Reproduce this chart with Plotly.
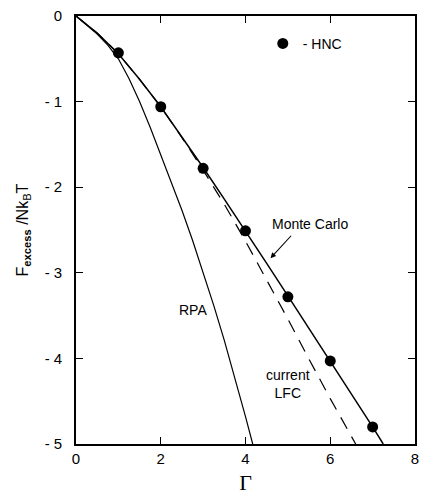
import plotly.graph_objects as go

# Excess free energy of the electron liquid versus coupling parameter Gamma
gamma_hnc = [1, 2, 3, 4, 5, 6, 7]
f_hnc = [-0.43, -1.06, -1.78, -2.51, -3.28, -4.03, -4.80]

gamma_mc = [0, 0.5, 1, 1.5, 2, 2.5, 3, 3.5, 4, 4.5, 5, 5.5, 6, 6.5, 7, 7.25]
f_mc = [0, -0.20, -0.44, -0.74, -1.06, -1.41, -1.77, -2.14, -2.51, -2.89,
        -3.27, -3.65, -4.03, -4.41, -4.80, -5.0]

gamma_lfc = [0, 0.5, 1, 1.5, 2, 2.5, 3, 3.5, 4, 4.5, 5, 5.5, 6, 6.6]
f_lfc = [0, -0.20, -0.44, -0.74, -1.06, -1.42, -1.80, -2.20, -2.63, -3.08,
         -3.54, -4.01, -4.47, -5.0]

gamma_rpa = [0, 0.25, 0.5, 0.75, 1.0, 1.25, 1.5, 1.75, 2.0, 2.25, 2.5, 2.75,
             3.0, 3.25, 3.5, 3.75, 4.0, 4.17]
f_rpa = [0, -0.10, -0.21, -0.34, -0.50, -0.73, -1.00, -1.30, -1.62, -1.94,
         -2.27, -2.62, -2.99, -3.38, -3.79, -4.22, -4.68, -5.0]

x_ticks = [0, 2, 4, 6, 8]
y_ticks = [0, -1, -2, -3, -4, -5]
y_ticktext = ["0", "- 1", "- 2", "- 3", "- 4", "- 5"]

font = "Liberation Sans, Arial, sans-serif"

fig = go.Figure()
fig.add_trace(go.Scatter(x=gamma_rpa, y=f_rpa, mode="lines",
                         line=dict(color="black", width=1.2), showlegend=False))
fig.add_trace(go.Scatter(x=gamma_lfc, y=f_lfc, mode="lines",
                         line=dict(color="black", width=1.2, dash="13px,9px"),
                         showlegend=False))
fig.add_trace(go.Scatter(x=gamma_mc, y=f_mc, mode="lines",
                         line=dict(color="black", width=1.5), showlegend=False))
fig.add_trace(go.Scatter(x=gamma_hnc, y=f_hnc, mode="markers", name="- HNC",
                         marker=dict(color="black", size=11), showlegend=True))

fig.add_annotation(x=5.53, y=-2.43, text="Monte Carlo", showarrow=False,
                   font=dict(size=14, color="black", family=font))
fig.add_annotation(x=4.59, y=-2.83, ax=22, ay=-24, text="", showarrow=True,
                   arrowhead=2, arrowsize=1, arrowwidth=1.1, arrowcolor="black")
fig.add_annotation(x=2.75, y=-3.43, text="RPA", showarrow=False,
                   font=dict(size=14, color="black", family=font))
fig.add_annotation(x=5.0, y=-4.3, text="current<br>LFC", showarrow=False,
                   font=dict(size=14, color="black", family=font))

axis_common = dict(showgrid=False, zeroline=False, showline=True,
                   linecolor="black", linewidth=1.6, mirror="ticks",
                   ticks="inside", ticklen=7, tickwidth=1.3, tickcolor="black",
                   tickfont=dict(size=15, color="black", family=font))

fig.update_xaxes(range=[0, 8], tickvals=x_ticks,
                 ticktext=[str(v) for v in x_ticks],
                 title=dict(text="Γ", standoff=9,
                            font=dict(size=22, color="black",
                                      family="Liberation Serif, serif")),
                 **axis_common)
fig.update_yaxes(range=[-5, 0], tickvals=y_ticks, ticktext=y_ticktext,
                 ticklabelstandoff=9,
                 title=dict(text="F<sub><b>excess</b></sub> /Nk<sub>B</sub>T",
                            standoff=12,
                            font=dict(size=16, color="black", family=font)),
                 **axis_common)

fig.update_layout(
    width=422, height=495,
    margin=dict(l=76, r=3, t=16, b=51),
    plot_bgcolor="white", paper_bgcolor="white",
    legend=dict(x=0.551, y=0.935, xanchor="left", yanchor="middle",
                bgcolor="rgba(0,0,0,0)", itemwidth=30,
                font=dict(size=14, color="black", family=font)),
)

fig.write_html("out.html")
